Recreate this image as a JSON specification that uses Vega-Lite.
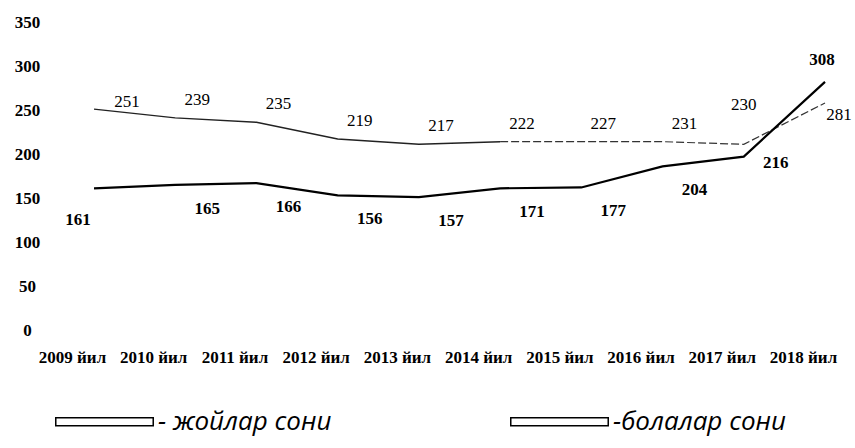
{
  "$schema": "https://vega.github.io/schema/vega-lite/v6.json",
  "width": 731,
  "height": 308,
  "autosize": "none",
  "padding": {"left": 94, "top": 22, "right": 30, "bottom": 118},
  "background": "white",
  "config": {"view": {"stroke": null}},
  "data": {
    "values": [
      {"year": 2009, "series": "жойлар сони", "value": 251, "label": 251},
      {"year": 2010, "series": "жойлар сони", "value": 241, "label": 239},
      {"year": 2011, "series": "жойлар сони", "value": 236, "label": 235},
      {"year": 2012, "series": "жойлар сони", "value": 217, "label": 219},
      {"year": 2013, "series": "жойлар сони", "value": 211, "label": 217},
      {"year": 2014, "series": "жойлар сони", "value": 214, "label": 222},
      {"year": 2015, "series": "жойлар сони", "value": 214, "label": 227},
      {"year": 2016, "series": "жойлар сони", "value": 214, "label": 231},
      {"year": 2017, "series": "жойлар сони", "value": 211, "label": 230},
      {"year": 2018, "series": "жойлар сони", "value": 258, "label": 281},
      {"year": 2009, "series": "болалар сони", "value": 161, "label": 161},
      {"year": 2010, "series": "болалар сони", "value": 165, "label": 165},
      {"year": 2011, "series": "болалар сони", "value": 167, "label": 166},
      {"year": 2012, "series": "болалар сони", "value": 153, "label": 156},
      {"year": 2013, "series": "болалар сони", "value": 151, "label": 157},
      {"year": 2014, "series": "болалар сони", "value": 161, "label": 171},
      {"year": 2015, "series": "болалар сони", "value": 162, "label": 177},
      {"year": 2016, "series": "болалар сони", "value": 186, "label": 204},
      {"year": 2017, "series": "болалар сони", "value": 197, "label": 216},
      {"year": 2018, "series": "болалар сони", "value": 282, "label": 308}
    ]
  },
  "encoding": {
    "x": {
      "field": "year", "type": "ordinal",
      "scale": {"type": "point", "padding": 0},
      "axis": {
        "title": null, "labelAngle": 0, "domain": false, "ticks": false, "tickSize": 0,
        "labelPadding": 19, "labelExpr": "datum.label + ' йил'",
        "labelFont": "Liberation Serif", "labelFontWeight": "bold", "labelFontSize": 17,
        "labelColor": "black", "labelOverlap": false, "labelBound": false, "labelOffset": -22, "grid": false
      }
    },
    "y": {
      "field": "value", "type": "quantitative",
      "scale": {"domain": [0, 350], "nice": false, "zero": true},
      "axis": {
        "title": null, "values": [0, 50, 100, 150, 200, 250, 300, 350],
        "domain": false, "ticks": false, "tickSize": 0, "grid": false,
        "labelPadding": 67, "labelAlign": "center", "labelBaseline": "middle",
        "labelFont": "Liberation Serif", "labelFontWeight": "bold", "labelFontSize": 17,
        "labelColor": "black"
      }
    }
  },
  "layer": [
    {
      "transform": [{"filter": "datum.series == 'жойлар сони' && datum.year <= 2014"}],
      "mark": {"type": "line", "color": "#222", "strokeWidth": 1.4}
    },
    {
      "transform": [{"filter": "datum.series == 'жойлар сони' && datum.year >= 2014"}],
      "mark": {"type": "line", "color": "#333", "strokeWidth": 1.2, "strokeDash": [8, 3]}
    },
    {
      "transform": [{"filter": "datum.series == 'болалар сони'"}],
      "mark": {"type": "line", "strokeWidth": 2.2},
      "encoding": {
        "color": {
          "field": "series", "type": "nominal",
          "scale": {"domain": ["жойлар сони", "болалар сони"], "range": ["black", "black"]},
          "legend": {
            "title": null, "orient": "none", "legendX": -39, "legendY": 350, "padding": 0,
            "direction": "horizontal", "columns": 2, "columnPadding": 175,
            "symbolType": "M-1,-0.08H1V0.08H-1Z", "symbolSize": 9500,
            "symbolFillColor": "white", "symbolStrokeColor": "black", "symbolStrokeWidth": 1.5,
            "labelFont": "Open Sans", "labelFontStyle": "italic", "labelFontSize": 26,
            "labelColor": "black", "labelOffset": 4, "labelLimit": 400,
            "labelExpr": "datum.label == 'жойлар сони' ? '- жойлар сони' : '-болалар сони'",
            "encode": {"symbols": {"update": {"fill": {"value": "white"}, "stroke": {"value": "black"}, "strokeWidth": {"value": 1.5}, "strokeDash": {"value": []}}}}
          }
        }
      }
    },
    {
      "transform": [{"filter": "datum.series == 'жойлар сони' && datum.year >= 2010 && datum.year <= 2016"}],
      "mark": {"type": "text", "dx": 22, "dy": -18, "font": "Liberation Serif", "fontSize": 17, "color": "black"},
      "encoding": {"text": {"field": "label"}}
    },
    {
      "transform": [{"filter": "datum.series == 'жойлар сони' && datum.year == 2009"}],
      "mark": {"type": "text", "dx": 33, "dy": -7, "font": "Liberation Serif", "fontSize": 17, "color": "black"},
      "encoding": {"text": {"field": "label"}}
    },
    {
      "transform": [{"filter": "datum.series == 'жойлар сони' && datum.year == 2017"}],
      "mark": {"type": "text", "dx": 0, "dy": -39, "font": "Liberation Serif", "fontSize": 17, "color": "black"},
      "encoding": {"text": {"field": "label"}}
    },
    {
      "transform": [{"filter": "datum.series == 'жойлар сони' && datum.year == 2018"}],
      "mark": {"type": "text", "dx": 14, "dy": 12, "font": "Liberation Serif", "fontSize": 17, "color": "black"},
      "encoding": {"text": {"field": "label"}}
    },
    {
      "transform": [{"filter": "datum.series == 'болалар сони' && datum.year >= 2010 && datum.year <= 2016"}],
      "mark": {"type": "text", "dx": 32, "dy": 24, "font": "Liberation Serif", "fontSize": 17, "fontWeight": "bold", "color": "black"},
      "encoding": {"text": {"field": "label"}}
    },
    {
      "transform": [{"filter": "datum.series == 'болалар сони' && datum.year == 2009"}],
      "mark": {"type": "text", "dx": -16, "dy": 32, "font": "Liberation Serif", "fontSize": 17, "fontWeight": "bold", "color": "black"},
      "encoding": {"text": {"field": "label"}}
    },
    {
      "transform": [{"filter": "datum.series == 'болалар сони' && datum.year == 2017"}],
      "mark": {"type": "text", "dx": 32, "dy": 6, "font": "Liberation Serif", "fontSize": 17, "fontWeight": "bold", "color": "black"},
      "encoding": {"text": {"field": "label"}}
    },
    {
      "transform": [{"filter": "datum.series == 'болалар сони' && datum.year == 2018"}],
      "mark": {"type": "text", "dx": -3, "dy": -22, "font": "Liberation Serif", "fontSize": 17, "fontWeight": "bold", "color": "black"},
      "encoding": {"text": {"field": "label"}}
    }
  ]
}
